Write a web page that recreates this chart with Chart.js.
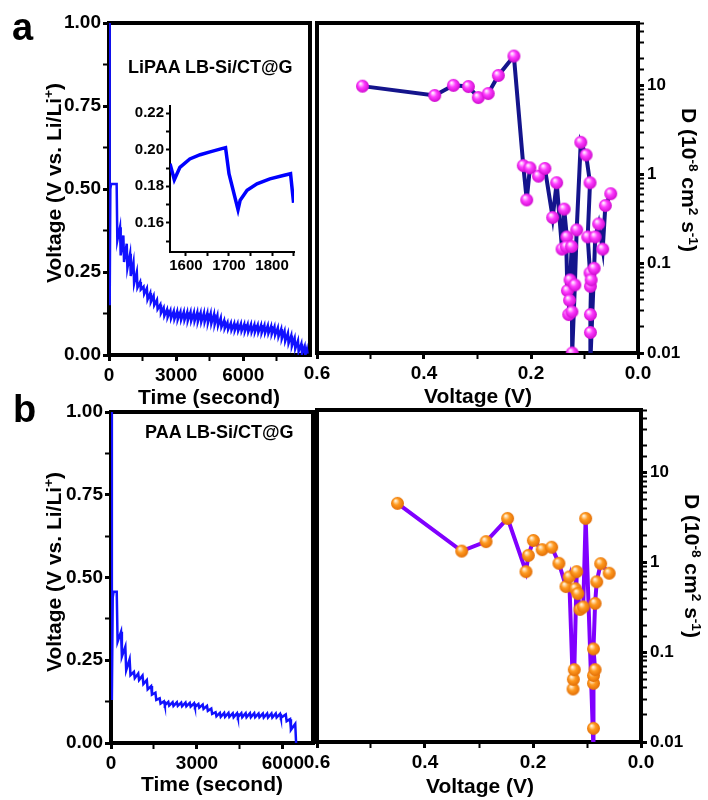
<!DOCTYPE html>
<html>
<head>
<meta charset="utf-8">
<script src="https://cdn.jsdelivr.net/npm/chart.js@4"></script>
<style>
  body { margin:0; background:#fff; width:708px; height:800px; position:relative; overflow:hidden;
         font-family:'Liberation Sans', Arial, sans-serif; font-weight:bold; color:#000; }
  canvas { position:absolute; }
  .t { position:absolute; white-space:nowrap; line-height:1; }
  .c { transform:translate(-50%,-50%); }
  .up { transform:translate(-50%,-50%) rotate(-90deg); }
  .down { transform:translate(-50%,-50%) rotate(90deg); }
  sup { font-size:65%; vertical-align:0.55em; line-height:0; }
</style>
</head>
<body>
<canvas id="tl" width="316" height="395" style="left:0;top:0"></canvas>
<canvas id="tr" width="418" height="395" style="left:290px;top:0"></canvas>
<canvas id="bl" width="316" height="430" style="left:0;top:370px"></canvas>
<canvas id="br" width="418" height="430" style="left:290px;top:370px"></canvas>
<canvas id="inset" width="185" height="180" style="left:115px;top:95px"></canvas>

<div class="t" style="left:12px;top:8px;font-size:38px">a</div>
<div class="t" style="left:13px;top:390px;font-size:38px">b</div>

<div class="t" style="left:128px;top:67px;font-size:18px;transform:translateY(-50%)">LiPAA LB-Si/CT@G</div>
<div class="t" style="left:145px;top:432px;font-size:18px;transform:translateY(-50%)">PAA LB-Si/CT@G</div>

<div class="t up" style="left:53px;top:183px;font-size:21px">Voltage (V vs. Li/Li<sup>+</sup>)</div>
<div class="t up" style="left:53px;top:572px;font-size:21px">Voltage (V vs. Li/Li<sup>+</sup>)</div>
<div class="t down" style="left:689px;top:180px;font-size:21px">D (10<sup>-8</sup> cm<sup>2</sup> s<sup>-1</sup>)</div>
<div class="t down" style="left:692px;top:566px;font-size:21px">D (10<sup>-8</sup> cm<sup>2</sup> s<sup>-1</sup>)</div>

<div class="t c" style="left:209px;top:396px;font-size:21px">Time (second)</div>
<div class="t c" style="left:212px;top:783px;font-size:21px">Time (second)</div>
<div class="t c" style="left:478px;top:395px;font-size:21px">Voltage (V)</div>
<div class="t c" style="left:480px;top:785px;font-size:21px">Voltage (V)</div>

<script>
// GITT, LiPAA binder: pulse start (s), relaxed voltage at start, voltage at pulse end
const liStart = [0, 60, 342, 492, 642, 792, 942, 1092, 1242, 1392, 1542, 1692, 1842, 1992, 2142, 2292, 2442,
  2592, 2742, 2892, 3042, 3192, 3342, 3492, 3642, 3792, 3942, 4092, 4242, 4392, 4542, 4692, 4842, 4992, 5142,
  5292, 5442, 5592, 5742, 5892, 6042, 6192, 6342, 6492, 6642, 6792, 6942, 7092, 7242, 7392, 7542, 7692, 7842,
  7992, 8142, 8292, 8442, 8592, 8742, 8842];
const liRest = [1.00, 0.50, 0.515, 0.385, 0.360, 0.335, 0.305, 0.280, 0.250, 0.220, 0.206, 0.2012, 0.1869, 0.178,
  0.166, 0.152, 0.142, 0.137, 0.134, 0.132, 0.131, 0.130, 0.130, 0.129, 0.129, 0.128, 0.128, 0.127, 0.127, 0.126,
  0.125, 0.123, 0.119, 0.112, 0.104, 0.098, 0.096, 0.095, 0.094, 0.094, 0.093, 0.092, 0.092, 0.091, 0.090, 0.090,
  0.089, 0.088, 0.087, 0.085, 0.082, 0.078, 0.072, 0.066, 0.059, 0.051, 0.043, 0.034, 0.026, 0.018];
const liEnd = [0.15, 0.515, 0.345, 0.300, 0.280, 0.262, 0.238, 0.215, 0.203, 0.197, 0.1836, 0.1674, 0.160, 0.150,
  0.138, 0.126, 0.118, 0.114, 0.110, 0.108, 0.107, 0.106, 0.105, 0.104, 0.103, 0.102, 0.101, 0.100, 0.099, 0.097,
  0.095, 0.092, 0.088, 0.084, 0.080, 0.077, 0.075, 0.074, 0.073, 0.072, 0.071, 0.070, 0.069, 0.069, 0.068, 0.067,
  0.066, 0.065, 0.063, 0.060, 0.055, 0.049, 0.042, 0.035, 0.027, 0.019, 0.011, 0.004, 0.000, 0.004];

// GITT, PAA binder
const paaStart = [0, 60, 200, 350, 500, 650, 800, 950, 1100, 1250, 1400, 1550, 1700, 1850, 2000, 2150, 2300,
  2450, 2600, 2750, 2900, 3050, 3200, 3350, 3500, 3650, 3800, 3950, 4100, 4250, 4400, 4550, 4700, 4850, 5000,
  5150, 5300, 5450, 5600, 5750, 5900, 6100, 6250, 6430];
const paaRest = [1.00, 0.44, 0.457, 0.336, 0.291, 0.253, 0.215, 0.210, 0.204, 0.190, 0.172, 0.152, 0.135, 0.126,
  0.124, 0.123, 0.123, 0.122, 0.122, 0.121, 0.120, 0.118, 0.116, 0.112, 0.104, 0.093, 0.091, 0.091, 0.091, 0.090,
  0.090, 0.090, 0.090, 0.090, 0.090, 0.089, 0.089, 0.089, 0.089, 0.089, 0.088, 0.086, 0.072, 0.058];
const paaEnd = [0.13, 0.457, 0.306, 0.261, 0.220, 0.205, 0.196, 0.190, 0.178, 0.162, 0.146, 0.130, 0.119, 0.114,
  0.113, 0.112, 0.112, 0.111, 0.111, 0.110, 0.109, 0.107, 0.103, 0.097, 0.088, 0.081, 0.079, 0.079, 0.079, 0.078,
  0.078, 0.078, 0.078, 0.078, 0.078, 0.078, 0.077, 0.077, 0.077, 0.077, 0.076, 0.066, 0.040, 0.000];
const pulseLen = 30;

// inset: two pulses of the LiPAA curve
const insetTime = [1563, 1573, 1586, 1609, 1633, 1656, 1679, 1692, 1700, 1721, 1726, 1742, 1765, 1795, 1826, 1843, 1850];
const insetVolt = [0.1924, 0.1836, 0.1904, 0.1950, 0.1973, 0.1989, 0.2004, 0.2012, 0.1869, 0.1672, 0.1724, 0.1778,
  0.1814, 0.1841, 0.1859, 0.1869, 0.1710];

// diffusion coefficient vs voltage (10^-8 cm2 s-1), in measuring order
const liVolt = [0.515, 0.380, 0.345, 0.317, 0.2985, 0.280, 0.261, 0.232, 0.2144, 0.208, 0.202, 0.186, 0.174, 0.1595,
  0.152, 0.142, 0.138, 0.133, 0.134, 0.132, 0.127, 0.128, 0.1295, 0.124, 0.1235, 0.123, 0.118, 0.1146, 0.107, 0.097,
  0.0897, 0.094, 0.0897, 0.089, 0.0875, 0.089, 0.089, 0.089, 0.082, 0.080, 0.0735, 0.066, 0.061, 0.051];
const liD = [9.8, 7.7, 10.0, 9.7, 7.3, 8.1, 12.9, 21.3, 1.26, 0.52, 1.19, 0.96, 1.17, 0.33, 0.81, 0.146, 0.41, 0.20,
  0.155, 0.050, 0.066, 0.039, 0.027, 0.156, 0.029, 0.010, 0.058, 0.24, 2.3, 1.66, 0.81, 0.20, 0.079, 0.056, 0.066,
  0.027, 0.017, 0.008, 0.089, 0.20, 0.28, 0.146, 0.45, 0.61];
const paaVolt = [0.451, 0.332, 0.287, 0.247, 0.213, 0.2086, 0.1994, 0.183, 0.1654, 0.152, 0.139, 0.133, 0.1259,
  0.1253, 0.1235, 0.119, 0.1216, 0.117, 0.113, 0.107, 0.1025, 0.088, 0.088, 0.088, 0.088, 0.085, 0.088, 0.085,
  0.082, 0.0747, 0.059];
const paaD = [4.56, 1.34, 1.71, 3.1, 0.79, 1.2, 1.76, 1.39, 1.48, 0.98, 0.54, 0.69, 0.039, 0.05, 0.064, 0.79, 0.51,
  0.45, 0.30, 0.32, 3.1, 0.008, 0.0142, 0.045, 0.055, 0.064, 0.109, 0.35, 0.61, 0.97, 0.76];

// tick positions and labels
const timeTicks = [0, 1500, 3000, 4500, 6000, 7500];
const timeLabels = ['0', '3000', '6000'];
const voltTicks = [0, 0.125, 0.25, 0.375, 0.5, 0.625, 0.75, 0.875, 1];
const voltLabels = ['0.00', '0.25', '0.50', '0.75', '1.00'];
const vTicks = [0, 0.1, 0.2, 0.3, 0.4, 0.5, 0.6];
const vLabels = ['0.0', '0.2', '0.4', '0.6'];
const dLabels = ['0.01', '0.1', '1', '10'];
const insetXTicks = [1600, 1650, 1700, 1750, 1800, 1850];
const insetXLabels = ['1600', '1700', '1800'];
const insetYTicks = [0.15, 0.16, 0.17, 0.18, 0.19, 0.20, 0.21, 0.22];
const insetYLabels = ['0.16', '0.18', '0.20', '0.22'];

Chart.defaults.font.family = "'Liberation Sans', Arial, sans-serif";
Chart.defaults.font.weight = 'bold';
Chart.defaults.color = '#000';

const pick = (list, v) => list.find(l => Math.abs(parseFloat(l) - v) < 1e-6 * Math.max(1, Math.abs(v))) || '';
const pickLog = (list, v) => list.find(l => Math.abs(Math.log10(parseFloat(l)) - Math.log10(v)) < 1e-6) || '';
const setTicks = values => scale => { scale.ticks = values.map(v => ({ value: v })); };

function gitt(start, rest, end) {
  const pts = [];
  start.forEach((t, i) => {
    pts.push({ x: t, y: rest[i] });
    pts.push({ x: t + pulseLen, y: end[i] });
  });
  return pts;
}

function ball(light, base, dark) {
  const r = 6.5, c = document.createElement('canvas');
  c.width = c.height = 15;
  const g = c.getContext('2d');
  const grad = g.createRadialGradient(5.5, 4.8, 0.5, 7.5, 7.5, 7.5);
  grad.addColorStop(0, light);
  grad.addColorStop(0.4, base);
  grad.addColorStop(1, dark);
  g.fillStyle = grad;
  g.beginPath();
  g.arc(7.5, 7.5, r, 0, Math.PI * 2);
  g.fill();
  return c;
}

const frame = {
  id: 'frame',
  beforeDatasetsDraw(chart) {
    const { left, top, right, bottom } = chart.chartArea;
    const g = chart.ctx;
    g.save();
    g.lineWidth = 4;
    g.strokeStyle = '#000';
    g.strokeRect(left, top, right - left, bottom - top);
    g.restore();
  }
};

function grid(labels, isLog) {
  return {
    drawOnChartArea: false, tickLength: 6, tickColor: '#000',
    tickWidth: c => (isLog ? pickLog(labels, c.tick.value) : pick(labels, c.tick.value)) ? 3 : 2
  };
}

function voltagePanel(id, start, rest, end, xmax, lineWidth, pad, ySize, xSize) {
  new Chart(document.getElementById(id), {
    type: 'line',
    data: { datasets: [{ data: gitt(start, rest, end), borderColor: '#1111ff', borderWidth: lineWidth,
                         pointRadius: 0, tension: 0 }] },
    options: {
      responsive: false, animation: false,
      layout: { padding: pad },
      plugins: { legend: { display: false }, tooltip: { enabled: false } },
      scales: {
        x: { type: 'linear', min: 0, max: xmax, afterFit: s => { s.height = xSize; },
             afterBuildTicks: setTicks(timeTicks.filter(t => t <= xmax)),
             grid: grid(timeLabels), border: { display: false },
             ticks: { autoSkip: false, maxRotation: 0, padding: 3, font: { size: 19 },
                      callback: v => pick(timeLabels, v) } },
        y: { min: 0, max: 1, afterFit: s => { s.width = ySize; },
             afterBuildTicks: setTicks(voltTicks),
             grid: grid(voltLabels), border: { display: false },
             ticks: { autoSkip: false, padding: 2, font: { size: 19 },
                      callback: v => pick(voltLabels, v) } }
      }
    },
    plugins: [frame]
  });
}

function diffusionPanel(id, volt, d, lineColor, marker, pad, ySize, xSize) {
  new Chart(document.getElementById(id), {
    type: 'line',
    data: { datasets: [{ data: volt.map((v, i) => ({ x: v, y: d[i] })), borderColor: lineColor, borderWidth: 4,
                         tension: 0, pointStyle: marker,
                         pointRadius: c => (c.raw && c.raw.y >= 0.01 ? 6 : 0) }] },
    options: {
      responsive: false, animation: false,
      layout: { padding: pad },
      plugins: { legend: { display: false }, tooltip: { enabled: false } },
      scales: {
        x: { type: 'linear', reverse: true, min: 0, max: 0.6, afterFit: s => { s.height = xSize; },
             afterBuildTicks: setTicks(vTicks),
             grid: grid(vLabels), border: { display: false },
             ticks: { autoSkip: false, maxRotation: 0, padding: 3, font: { size: 19 },
                      callback: v => pick(vLabels, v) } },
        y: { type: 'logarithmic', position: 'right', min: 0.01, max: 50, afterFit: s => { s.width = ySize; },
             grid: grid(dLabels, true), border: { display: false },
             ticks: { autoSkip: false, padding: 3, font: { size: 17 }, callback: v => pickLog(dLabels, v) } }
      }
    },
    plugins: [frame]
  });
}

voltagePanel('tl', liStart, liRest, liEnd, 8980, 2.5, { top: 23, right: 6, left: 0, bottom: 0 }, 109, 40);
voltagePanel('bl', paaStart, paaRest, paaEnd, 7050, 2.5, { top: 42, right: 3, left: 0, bottom: 0 }, 111, 57);

diffusionPanel('tr', liVolt, liD, '#14148c', ball('#fff0ff', '#ff3cff', '#c400c4'),
               { top: 23, left: 27, right: 0, bottom: 0 }, 70, 42);
diffusionPanel('br', paaVolt, paaD, '#8000ff', ball('#fff3dc', '#ff9a20', '#dc6400'),
               { top: 40, left: 27, right: 0, bottom: 0 }, 67, 58);

new Chart(document.getElementById('inset'), {
  type: 'line',
  data: { datasets: [{ data: insetTime.map((t, i) => ({ x: t, y: insetVolt[i] })), borderColor: '#0000ff',
                       borderWidth: 3.5, pointRadius: 0, tension: 0 }] },
  options: {
    responsive: false, animation: false,
    layout: { padding: { top: 9, right: 6, left: 0, bottom: 0 } },
    plugins: { legend: { display: false }, tooltip: { enabled: false } },
    scales: {
      x: { type: 'linear', min: 1563, max: 1851, afterFit: s => { s.height = 23; },
           afterBuildTicks: setTicks(insetXTicks),
           grid: { drawOnChartArea: false, tickLength: 4, tickColor: '#000', tickWidth: 2 },
           border: { color: '#000', width: 2 },
           ticks: { autoSkip: false, maxRotation: 0, padding: 1, font: { size: 15 },
                    callback: v => pick(insetXLabels, v) } },
      y: { min: 0.144, max: 0.224, afterFit: s => { s.width = 55; },
           afterBuildTicks: setTicks(insetYTicks),
           grid: { drawOnChartArea: false, tickLength: 4, tickColor: '#000', tickWidth: 2 },
           border: { color: '#000', width: 2 },
           ticks: { autoSkip: false, padding: 2, font: { size: 15 },
                    callback: v => pick(insetYLabels, v) } }
    }
  }
});
</script>
</body>
</html>
